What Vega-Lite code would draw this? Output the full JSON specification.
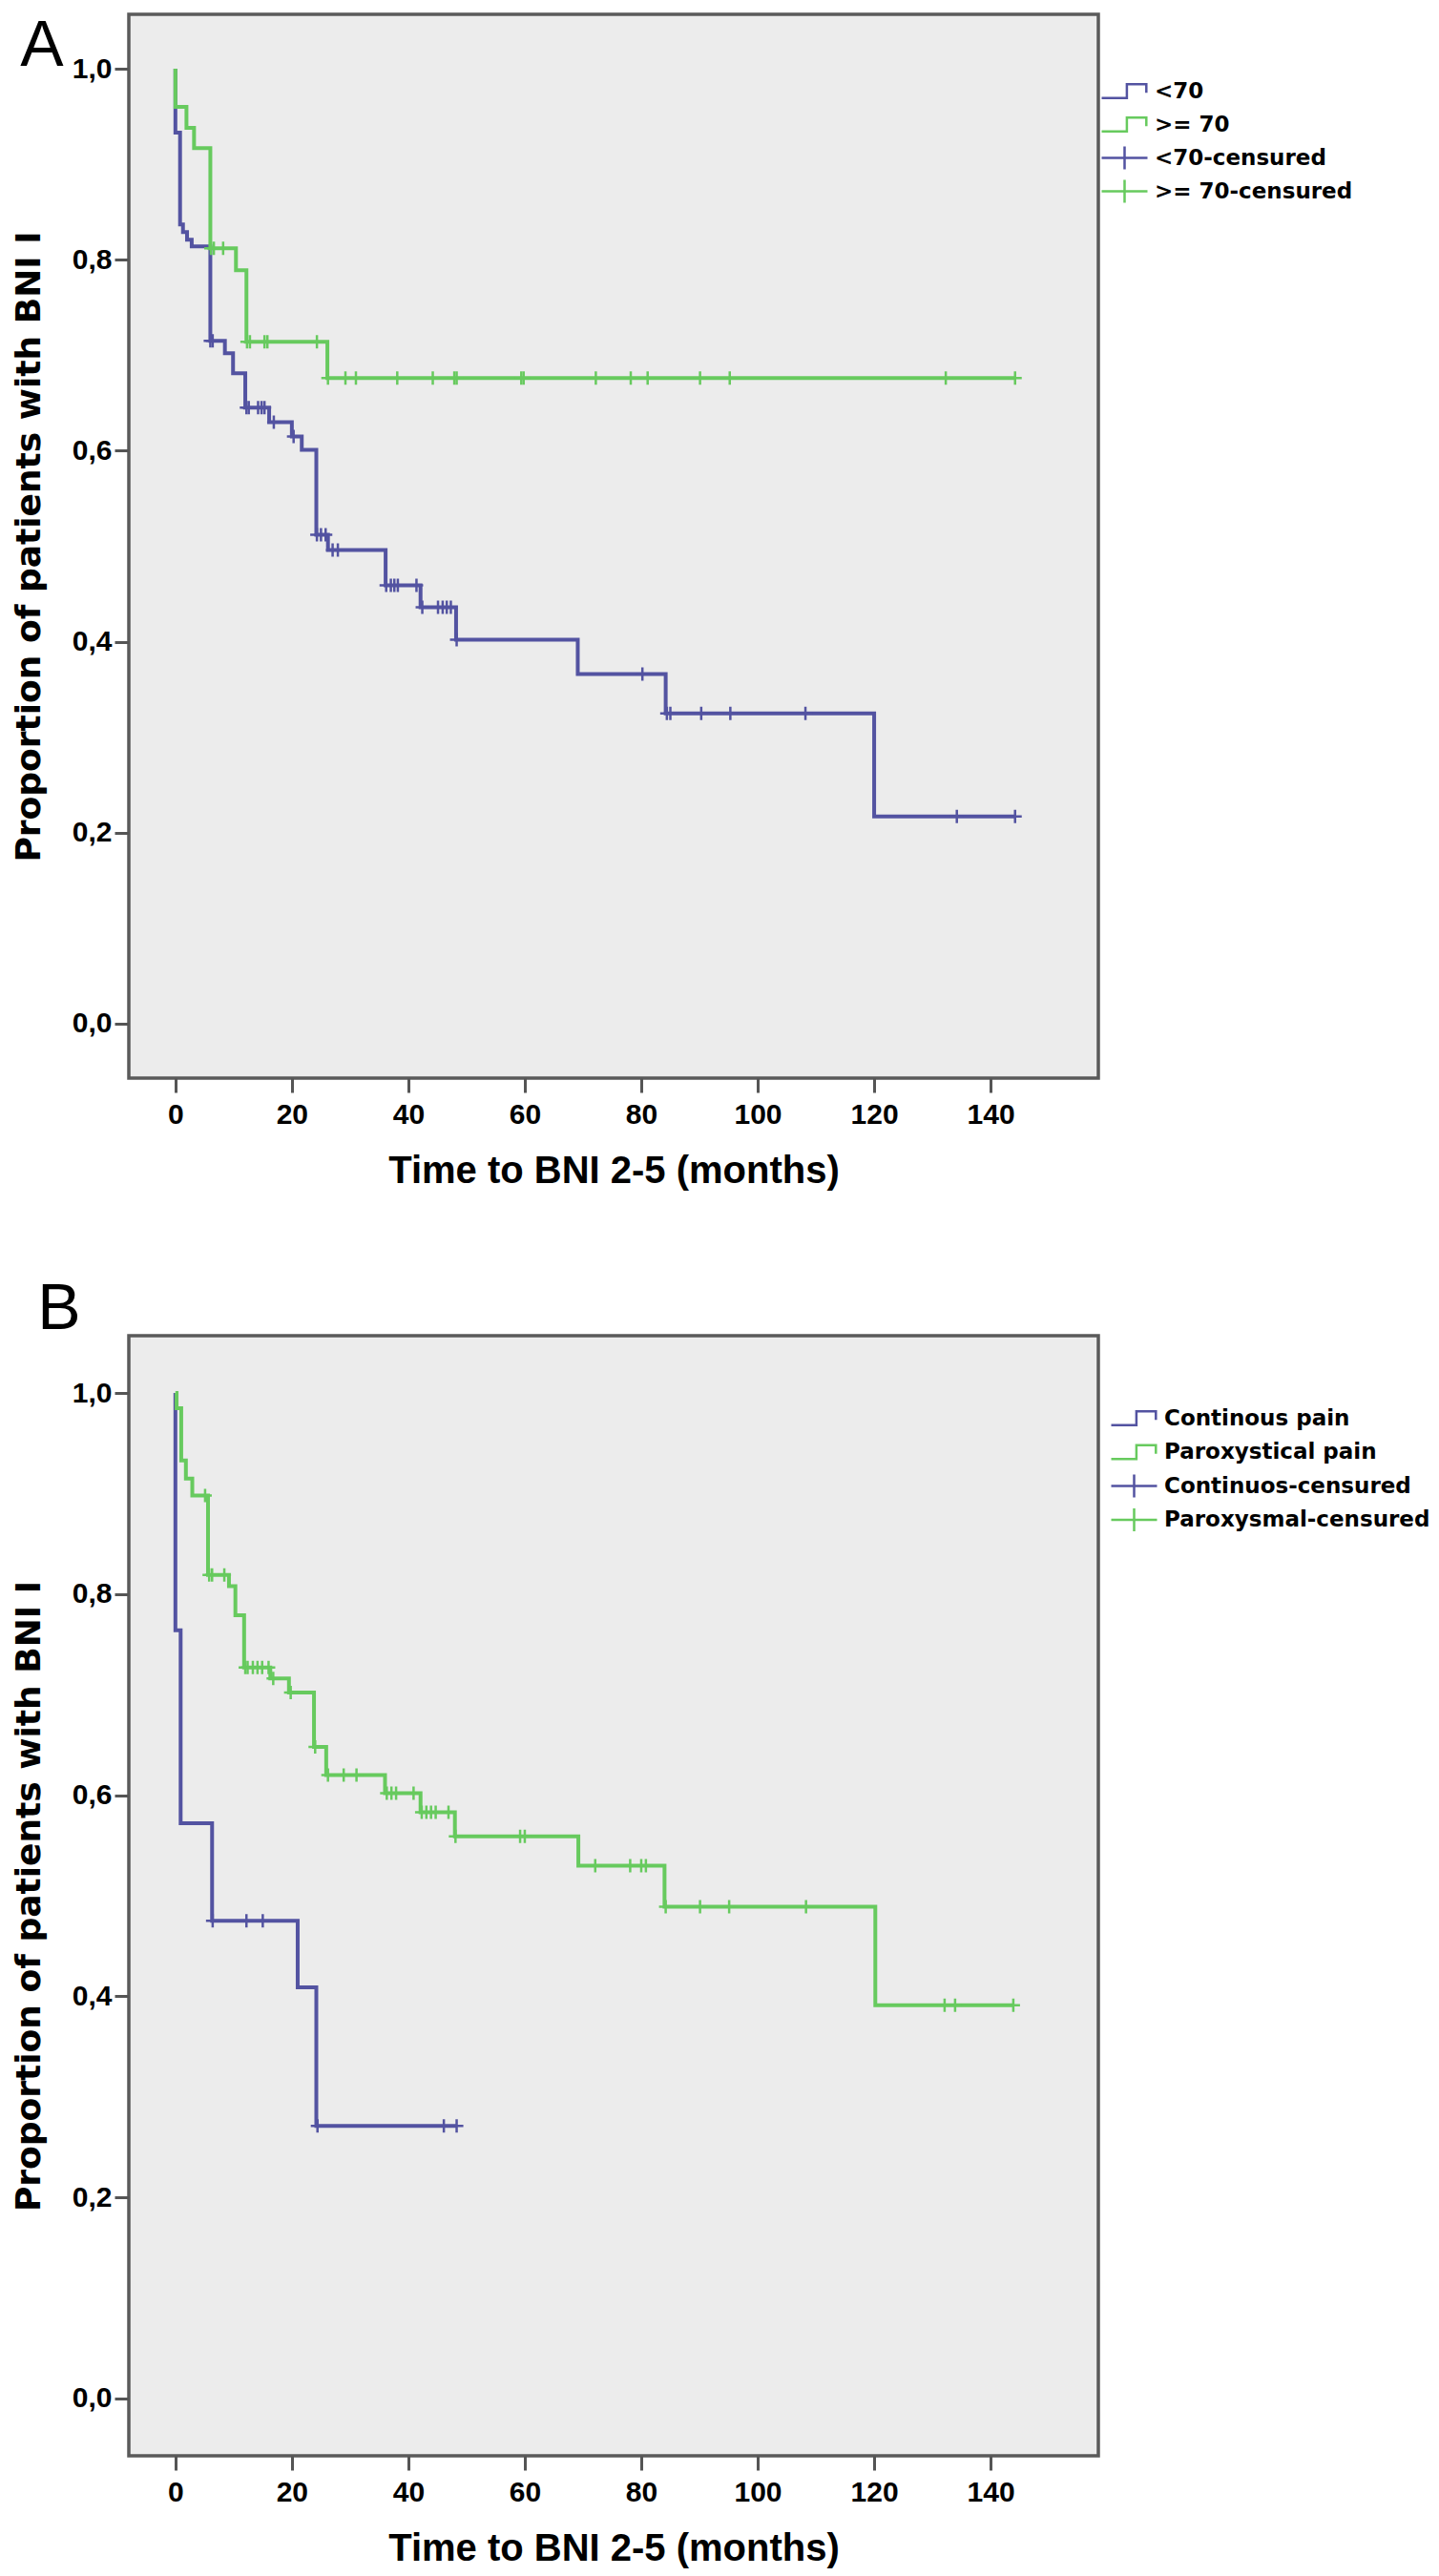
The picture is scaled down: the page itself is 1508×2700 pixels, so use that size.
{
  "$schema": "https://vega.github.io/schema/vega-lite/v6.json",
  "padding": {"left": 10, "top": 13, "right": 0, "bottom": 0},
  "background": "white",
  "spacing": 88,
  "resolve": {"scale": {"color": "independent"}, "legend": {"color": "independent"}},
  "datasets": {
    "lineA": [
      {"t": 0, "s": 1.0, "series": "<70"},
      {"t": 0, "s": 0.933, "series": "<70"},
      {"t": 0.8, "s": 0.837, "series": "<70"},
      {"t": 1.3, "s": 0.829, "series": "<70"},
      {"t": 2.0, "s": 0.821, "series": "<70"},
      {"t": 2.8, "s": 0.814, "series": "<70"},
      {"t": 6.0, "s": 0.715, "series": "<70"},
      {"t": 8.5, "s": 0.702, "series": "<70"},
      {"t": 9.9, "s": 0.681, "series": "<70"},
      {"t": 12.0, "s": 0.645, "series": "<70"},
      {"t": 16.1, "s": 0.630, "series": "<70"},
      {"t": 20.0, "s": 0.615, "series": "<70"},
      {"t": 21.7, "s": 0.601, "series": "<70"},
      {"t": 24.2, "s": 0.512, "series": "<70"},
      {"t": 26.2, "s": 0.496, "series": "<70"},
      {"t": 36.1, "s": 0.459, "series": "<70"},
      {"t": 42.1, "s": 0.436, "series": "<70"},
      {"t": 48.2, "s": 0.402, "series": "<70"},
      {"t": 69.1, "s": 0.366, "series": "<70"},
      {"t": 84.2, "s": 0.325, "series": "<70"},
      {"t": 120.0, "s": 0.217, "series": "<70"},
      {"t": 144.2, "s": 0.217, "series": "<70"},
      {"t": 0, "s": 1.0, "series": ">= 70"},
      {"t": 0, "s": 0.960, "series": ">= 70"},
      {"t": 1.9, "s": 0.938, "series": ">= 70"},
      {"t": 3.2, "s": 0.917, "series": ">= 70"},
      {"t": 6.0, "s": 0.812, "series": ">= 70"},
      {"t": 10.4, "s": 0.789, "series": ">= 70"},
      {"t": 12.2, "s": 0.714, "series": ">= 70"},
      {"t": 26.1, "s": 0.676, "series": ">= 70"},
      {"t": 144.2, "s": 0.676, "series": ">= 70"}
    ],
    "censA": [
      {"t": 6.0, "s": 0.715, "series": "<70-censured"},
      {"t": 6.4, "s": 0.715, "series": "<70-censured"},
      {"t": 12.2, "s": 0.645, "series": "<70-censured"},
      {"t": 12.6, "s": 0.645, "series": "<70-censured"},
      {"t": 14.2, "s": 0.645, "series": "<70-censured"},
      {"t": 14.8, "s": 0.645, "series": "<70-censured"},
      {"t": 15.3, "s": 0.645, "series": "<70-censured"},
      {"t": 16.9, "s": 0.630, "series": "<70-censured"},
      {"t": 20.3, "s": 0.615, "series": "<70-censured"},
      {"t": 24.3, "s": 0.512, "series": "<70-censured"},
      {"t": 25.0, "s": 0.512, "series": "<70-censured"},
      {"t": 25.8, "s": 0.512, "series": "<70-censured"},
      {"t": 27.0, "s": 0.496, "series": "<70-censured"},
      {"t": 27.9, "s": 0.496, "series": "<70-censured"},
      {"t": 36.2, "s": 0.459, "series": "<70-censured"},
      {"t": 37.0, "s": 0.459, "series": "<70-censured"},
      {"t": 37.6, "s": 0.459, "series": "<70-censured"},
      {"t": 38.2, "s": 0.459, "series": "<70-censured"},
      {"t": 41.4, "s": 0.459, "series": "<70-censured"},
      {"t": 42.4, "s": 0.436, "series": "<70-censured"},
      {"t": 45.1, "s": 0.436, "series": "<70-censured"},
      {"t": 45.9, "s": 0.436, "series": "<70-censured"},
      {"t": 46.6, "s": 0.436, "series": "<70-censured"},
      {"t": 47.3, "s": 0.436, "series": "<70-censured"},
      {"t": 48.3, "s": 0.402, "series": "<70-censured"},
      {"t": 80.2, "s": 0.366, "series": "<70-censured"},
      {"t": 84.4, "s": 0.325, "series": "<70-censured"},
      {"t": 85.0, "s": 0.325, "series": "<70-censured"},
      {"t": 90.3, "s": 0.325, "series": "<70-censured"},
      {"t": 95.3, "s": 0.325, "series": "<70-censured"},
      {"t": 108.2, "s": 0.325, "series": "<70-censured"},
      {"t": 134.2, "s": 0.217, "series": "<70-censured"},
      {"t": 144.2, "s": 0.217, "series": "<70-censured"},
      {"t": 6.1, "s": 0.812, "series": ">= 70-censured"},
      {"t": 6.6, "s": 0.812, "series": ">= 70-censured"},
      {"t": 8.2, "s": 0.812, "series": ">= 70-censured"},
      {"t": 12.3, "s": 0.714, "series": ">= 70-censured"},
      {"t": 12.8, "s": 0.714, "series": ">= 70-censured"},
      {"t": 15.3, "s": 0.714, "series": ">= 70-censured"},
      {"t": 15.8, "s": 0.714, "series": ">= 70-censured"},
      {"t": 24.3, "s": 0.714, "series": ">= 70-censured"},
      {"t": 26.2, "s": 0.676, "series": ">= 70-censured"},
      {"t": 29.2, "s": 0.676, "series": ">= 70-censured"},
      {"t": 31.0, "s": 0.676, "series": ">= 70-censured"},
      {"t": 38.1, "s": 0.676, "series": ">= 70-censured"},
      {"t": 44.2, "s": 0.676, "series": ">= 70-censured"},
      {"t": 47.9, "s": 0.676, "series": ">= 70-censured"},
      {"t": 48.3, "s": 0.676, "series": ">= 70-censured"},
      {"t": 59.4, "s": 0.676, "series": ">= 70-censured"},
      {"t": 59.8, "s": 0.676, "series": ">= 70-censured"},
      {"t": 72.2, "s": 0.676, "series": ">= 70-censured"},
      {"t": 78.2, "s": 0.676, "series": ">= 70-censured"},
      {"t": 81.1, "s": 0.676, "series": ">= 70-censured"},
      {"t": 90.1, "s": 0.676, "series": ">= 70-censured"},
      {"t": 95.2, "s": 0.676, "series": ">= 70-censured"},
      {"t": 132.3, "s": 0.676, "series": ">= 70-censured"},
      {"t": 144.2, "s": 0.676, "series": ">= 70-censured"}
    ],
    "lineB": [
      {"t": 0, "s": 1.0, "series": "Continous pain"},
      {"t": 0, "s": 0.764, "series": "Continous pain"},
      {"t": 0.9, "s": 0.572, "series": "Continous pain"},
      {"t": 6.3, "s": 0.475, "series": "Continous pain"},
      {"t": 21.0, "s": 0.409, "series": "Continous pain"},
      {"t": 24.2, "s": 0.271, "series": "Continous pain"},
      {"t": 48.3, "s": 0.271, "series": "Continous pain"},
      {"t": 0, "s": 1.0, "series": "Paroxystical pain"},
      {"t": 0.2, "s": 0.985, "series": "Paroxystical pain"},
      {"t": 1.0, "s": 0.933, "series": "Paroxystical pain"},
      {"t": 1.8, "s": 0.915, "series": "Paroxystical pain"},
      {"t": 2.9, "s": 0.898, "series": "Paroxystical pain"},
      {"t": 5.6, "s": 0.819, "series": "Paroxystical pain"},
      {"t": 9.2, "s": 0.808, "series": "Paroxystical pain"},
      {"t": 10.3, "s": 0.779, "series": "Paroxystical pain"},
      {"t": 11.8, "s": 0.727, "series": "Paroxystical pain"},
      {"t": 16.3, "s": 0.716, "series": "Paroxystical pain"},
      {"t": 19.5, "s": 0.702, "series": "Paroxystical pain"},
      {"t": 23.8, "s": 0.648, "series": "Paroxystical pain"},
      {"t": 25.9, "s": 0.620, "series": "Paroxystical pain"},
      {"t": 36.0, "s": 0.602, "series": "Paroxystical pain"},
      {"t": 42.1, "s": 0.583, "series": "Paroxystical pain"},
      {"t": 48.0, "s": 0.559, "series": "Paroxystical pain"},
      {"t": 69.2, "s": 0.530, "series": "Paroxystical pain"},
      {"t": 84.0, "s": 0.489, "series": "Paroxystical pain"},
      {"t": 120.2, "s": 0.391, "series": "Paroxystical pain"},
      {"t": 144.0, "s": 0.391, "series": "Paroxystical pain"}
    ],
    "censB": [
      {"t": 6.4, "s": 0.475, "series": "Continuos-censured"},
      {"t": 12.2, "s": 0.475, "series": "Continuos-censured"},
      {"t": 15.0, "s": 0.475, "series": "Continuos-censured"},
      {"t": 24.4, "s": 0.271, "series": "Continuos-censured"},
      {"t": 46.1, "s": 0.271, "series": "Continuos-censured"},
      {"t": 48.3, "s": 0.271, "series": "Continuos-censured"},
      {"t": 5.1, "s": 0.898, "series": "Paroxysmal-censured"},
      {"t": 5.8, "s": 0.819, "series": "Paroxysmal-censured"},
      {"t": 6.3, "s": 0.819, "series": "Paroxysmal-censured"},
      {"t": 8.4, "s": 0.819, "series": "Paroxysmal-censured"},
      {"t": 12.0, "s": 0.727, "series": "Paroxysmal-censured"},
      {"t": 12.4, "s": 0.727, "series": "Paroxysmal-censured"},
      {"t": 13.3, "s": 0.727, "series": "Paroxysmal-censured"},
      {"t": 14.1, "s": 0.727, "series": "Paroxysmal-censured"},
      {"t": 14.9, "s": 0.727, "series": "Paroxysmal-censured"},
      {"t": 16.0, "s": 0.727, "series": "Paroxysmal-censured"},
      {"t": 16.8, "s": 0.716, "series": "Paroxysmal-censured"},
      {"t": 19.8, "s": 0.702, "series": "Paroxysmal-censured"},
      {"t": 24.0, "s": 0.648, "series": "Paroxysmal-censured"},
      {"t": 26.2, "s": 0.620, "series": "Paroxysmal-censured"},
      {"t": 28.9, "s": 0.620, "series": "Paroxysmal-censured"},
      {"t": 31.1, "s": 0.620, "series": "Paroxysmal-censured"},
      {"t": 36.3, "s": 0.602, "series": "Paroxysmal-censured"},
      {"t": 37.1, "s": 0.602, "series": "Paroxysmal-censured"},
      {"t": 37.9, "s": 0.602, "series": "Paroxysmal-censured"},
      {"t": 40.9, "s": 0.602, "series": "Paroxysmal-censured"},
      {"t": 42.3, "s": 0.583, "series": "Paroxysmal-censured"},
      {"t": 43.1, "s": 0.583, "series": "Paroxysmal-censured"},
      {"t": 43.9, "s": 0.583, "series": "Paroxysmal-censured"},
      {"t": 44.7, "s": 0.583, "series": "Paroxysmal-censured"},
      {"t": 46.9, "s": 0.583, "series": "Paroxysmal-censured"},
      {"t": 48.1, "s": 0.559, "series": "Paroxysmal-censured"},
      {"t": 59.2, "s": 0.559, "series": "Paroxysmal-censured"},
      {"t": 60.0, "s": 0.559, "series": "Paroxysmal-censured"},
      {"t": 72.1, "s": 0.530, "series": "Paroxysmal-censured"},
      {"t": 78.1, "s": 0.530, "series": "Paroxysmal-censured"},
      {"t": 80.0, "s": 0.530, "series": "Paroxysmal-censured"},
      {"t": 80.8, "s": 0.530, "series": "Paroxysmal-censured"},
      {"t": 84.2, "s": 0.489, "series": "Paroxysmal-censured"},
      {"t": 90.1, "s": 0.489, "series": "Paroxysmal-censured"},
      {"t": 95.1, "s": 0.489, "series": "Paroxysmal-censured"},
      {"t": 108.3, "s": 0.489, "series": "Paroxysmal-censured"},
      {"t": 132.1, "s": 0.391, "series": "Paroxysmal-censured"},
      {"t": 133.9, "s": 0.391, "series": "Paroxysmal-censured"},
      {"t": 143.9, "s": 0.391, "series": "Paroxysmal-censured"}
    ]
  },
  "vconcat": [
    {
      "width": 1016,
      "height": 1115,
      "title": {"text": "A", "offset": -68, "dx": 9},
      "layer": [
        {
          "data": {"name": "lineA"},
          "mark": {"type": "line", "interpolate": "step-after", "strokeWidth": 4},
          "encoding": {
            "x": {
              "field": "t", "type": "quantitative",
              "scale": {"domain": [-8, 158.5], "nice": false, "zero": false},
              "axis": {"values": [0, 20, 40, 60, 80, 100, 120, 140], "title": "Time to BNI 2-5 (months)"}
            },
            "y": {
              "field": "s", "type": "quantitative",
              "scale": {"domain": [-0.057, 1.057], "nice": false, "zero": false},
              "axis": {
                "values": [0, 0.2, 0.4, 0.6, 0.8, 1.0],
                "labelExpr": "replace(format(datum.value, '.1f'), '.', ',')",
                "title": "Proportion of patients with BNI I",
                "orient": "left"
              }
            },
            "color": {
              "field": "series", "type": "nominal",
              "scale": {
                "domain": ["<70", ">= 70", "<70-censured", ">= 70-censured"],
                "range": ["#5353a1", "#67ca5e", "#5353a1", "#67ca5e"]
              },
              "legend": {
                "legendX": 1030, "legendY": 67, "rowPadding": 0,
                "encode": {
                  "symbols": {
                    "update": {
                      "shape": {"signal": "indexof(datum.value, 'censured') >= 0 ? 'M-2,0L2,0M0,-1L0,1' : 'M-2,0.6L0.2,0.6L0.2,-0.6L1.9,-0.6L1.9,0.15'"},
                      "fill": {"value": "transparent"}
                    }
                  }
                }
              }
            }
          }
        },
        {
          "data": {"name": "censA"},
          "mark": {"type": "point", "shape": "M-1,0L1,0M0,-1L0,1", "size": 196, "filled": false, "strokeWidth": 2.5, "opacity": 1},
          "encoding": {
            "x": {"field": "t", "type": "quantitative"},
            "y": {"field": "s", "type": "quantitative"},
            "color": {"field": "series", "type": "nominal", "legend": null}
          }
        }
      ]
    },
    {
      "width": 1016,
      "height": 1174,
      "title": {"text": "B", "offset": -7, "dx": 27},
      "layer": [
        {
          "data": {"name": "lineB"},
          "mark": {"type": "line", "interpolate": "step-after", "strokeWidth": 4},
          "encoding": {
            "x": {
              "field": "t", "type": "quantitative",
              "scale": {"domain": [-8, 158.5], "nice": false, "zero": false},
              "axis": {"values": [0, 20, 40, 60, 80, 100, 120, 140], "title": "Time to BNI 2-5 (months)"}
            },
            "y": {
              "field": "s", "type": "quantitative",
              "scale": {"domain": [-0.057, 1.057], "nice": false, "zero": false},
              "axis": {
                "values": [0, 0.2, 0.4, 0.6, 0.8, 1.0],
                "labelExpr": "replace(format(datum.value, '.1f'), '.', ',')",
                "title": "Proportion of patients with BNI I",
                "orient": "left"
              }
            },
            "color": {
              "field": "series", "type": "nominal",
              "scale": {
                "domain": ["Continous pain", "Paroxystical pain", "Continuos-censured", "Paroxysmal-censured"],
                "range": ["#5353a1", "#67ca5e", "#5353a1", "#67ca5e"]
              },
              "legend": {
                "legendX": 1040, "legendY": 73, "rowPadding": 0.5,
                "encode": {
                  "symbols": {
                    "update": {
                      "shape": {"signal": "indexof(datum.value, 'censured') >= 0 ? 'M-2,0L2,0M0,-1L0,1' : 'M-2,0.6L0.2,0.6L0.2,-0.6L1.9,-0.6L1.9,0.15'"},
                      "fill": {"value": "transparent"}
                    }
                  }
                }
              }
            }
          }
        },
        {
          "data": {"name": "censB"},
          "mark": {"type": "point", "shape": "M-1,0L1,0M0,-1L0,1", "size": 196, "filled": false, "strokeWidth": 2.5, "opacity": 1},
          "encoding": {
            "x": {"field": "t", "type": "quantitative"},
            "y": {"field": "s", "type": "quantitative"},
            "color": {"field": "series", "type": "nominal", "legend": null}
          }
        }
      ]
    }
  ],
  "config": {
    "view": {"fill": "#ececec", "stroke": "#5a5a5a", "strokeWidth": 3.5},
    "title": {"font": "Liberation Sans", "fontSize": 68, "fontWeight": "normal", "anchor": "start", "frame": "bounds", "color": "black"},
    "axis": {
      "domain": false,
      "grid": false,
      "tickSize": 15,
      "tickWidth": 3,
      "tickColor": "#555555",
      "labelFont": "Liberation Sans",
      "labelFontSize": 30,
      "labelFontWeight": "bold",
      "labelColor": "black",
      "labelFlush": false,
      "labelOverlap": false,
      "titleColor": "black",
      "titleFontWeight": "bold"
    },
    "axisX": {"labelPadding": 8, "titleFont": "Liberation Sans", "titleFontSize": 40, "titlePadding": 24},
    "axisY": {"labelPadding": 3, "titleFont": "DejaVu Sans", "titleFontSize": 36, "titlePadding": 26},
    "legend": {
      "orient": "none",
      "direction": "vertical",
      "title": null,
      "padding": 0,
      "gridAlign": "all",
      "labelFont": "DejaVu Sans",
      "labelFontSize": 23,
      "labelFontWeight": "bold",
      "labelColor": "black",
      "labelLimit": 0,
      "labelOffset": 18,
      "symbolSize": 576,
      "symbolStrokeWidth": 2.5,
      "symbolFillColor": "transparent"
    }
  }
}
